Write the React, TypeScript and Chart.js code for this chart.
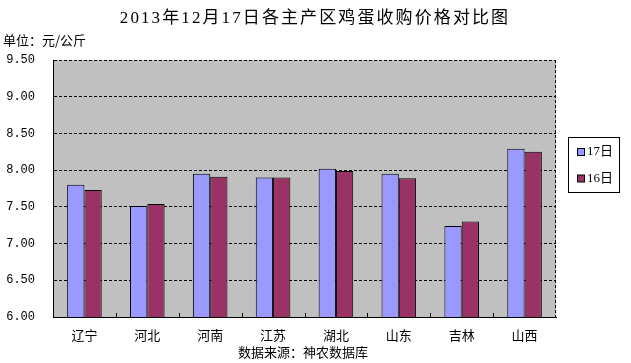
import React, { useEffect, useRef } from "react";
import { Chart, registerables } from "chart.js";

Chart.register(...registerables);

const categories = ["辽宁", "河北", "河南", "江苏", "湖北", "山东", "吉林", "山西"];
const series17 = [7.8, 7.51, 7.95, 7.9, 8.02, 7.95, 7.24, 8.29];
const series16 = [7.73, 7.54, 7.91, 7.9, 7.99, 7.89, 7.3, 8.25];
const seriesLabels = ["17日", "16日"];
const seriesColors = ["#9999FF", "#993366"];
const yMin = 6;
const yMax = 9.5;
const yStep = 0.5;
const titleText = "2013年12月17日各主产区鸡蛋收购价格对比图";
const unitText = "单位：元/公斤";
const sourceText = "数据来源：神农数据库";

const CJK = '"Noto Sans CJK SC", "Noto Sans", sans-serif';

const decorPlugin = {
  id: "decor",
  beforeDraw(chart: any) {
    const { ctx, chartArea: a } = chart;
    ctx.save();
    ctx.fillStyle = "#ffffff";
    ctx.fillRect(0, 0, chart.width, chart.height);
    ctx.fillStyle = "#C0C0C0";
    ctx.fillRect(a.left, a.top, a.right - a.left, a.bottom - a.top);
    ctx.restore();
  },
  afterDraw(chart: any) {
    const { ctx, chartArea: a } = chart;
    ctx.save();
    // right dashed border
    ctx.strokeStyle = "#000000";
    ctx.lineWidth = 1;
    ctx.setLineDash([3, 2]);
    ctx.beginPath();
    ctx.moveTo(Math.round(a.right) - 0.5, a.top);
    ctx.lineTo(Math.round(a.right) - 0.5, a.bottom);
    ctx.stroke();
    ctx.setLineDash([]);
    // inward category tick marks
    const n = categories.length;
    const w = (a.right - a.left) / n;
    ctx.beginPath();
    for (let i = 1; i < n; i++) {
      const x = Math.round(a.left + w * i) + 0.5;
      ctx.moveTo(x, a.bottom);
      ctx.lineTo(x, a.bottom - 4);
    }
    ctx.stroke();

    // title
    ctx.fillStyle = "#000000";
    ctx.textBaseline = "middle";
    ctx.textAlign = "center";
    ctx.font = '17px "Liberation Serif", "Noto Sans CJK SC", serif';
    (ctx as any).letterSpacing = "2.1px";
    ctx.fillText(titleText, 315, 19);
    (ctx as any).letterSpacing = "0px";

    // unit
    ctx.textAlign = "left";
    ctx.font = "13px " + CJK;
    ctx.fillText(unitText, 3, 40);

    // source
    ctx.textAlign = "center";
    ctx.fillText(sourceText, 303, 352);

    // legend
    const lx = 568.5, ly = 137.5, lw = 51, lh = 55;
    ctx.fillStyle = "#ffffff";
    ctx.fillRect(lx, ly, lw, lh);
    ctx.strokeStyle = "#000000";
    ctx.strokeRect(lx, ly, lw, lh);
    const ds = chart.data.datasets;
    ds.forEach((d: any, i: number) => {
      const cy = 152 + i * 26.5;
      ctx.fillStyle = d.backgroundColor;
      ctx.fillRect(577.5, cy - 3.5, 7, 7);
      ctx.strokeStyle = "#000000";
      ctx.strokeRect(577.5, cy - 3.5, 7, 7);
      ctx.fillStyle = "#000000";
      ctx.textAlign = "left";
      ctx.font = '13px "Liberation Serif", "Noto Sans CJK SC", serif';
      ctx.fillText(d.label, 587, cy);
    });
    ctx.restore();
  },
};

export default function App() {
  const ref = useRef<HTMLCanvasElement | null>(null);
  useEffect(() => {
    if (!ref.current) return;
    const chart = new Chart(ref.current, {
      type: "bar",
      data: {
        labels: categories,
        datasets: [
          {
            label: seriesLabels[0],
            data: series17,
            backgroundColor: seriesColors[0],
            borderColor: "#000000",
            borderWidth: 1,
            borderSkipped: false,
            categoryPercentage: 0.55,
            barPercentage: 1,
          },
          {
            label: seriesLabels[1],
            data: series16,
            backgroundColor: seriesColors[1],
            borderColor: "#000000",
            borderWidth: 1,
            borderSkipped: false,
            categoryPercentage: 0.55,
            barPercentage: 1,
          },
        ],
      },
      options: {
        responsive: false,
        animation: false,
        devicePixelRatio: 1,
        layout: { padding: { left: 0, top: 60, right: 75, bottom: 0 } },
        plugins: {
          legend: { display: false },
          title: { display: false },
          tooltip: { enabled: false },
        },
        scales: {
          x: {
            grid: { display: false, drawTicks: false },
            border: { display: true, color: "#000000", width: 1 },
            ticks: {
              padding: 10,
              color: "#000000",
              font: { family: CJK, size: 13 },
            },
            afterFit(axis: any) {
              axis.height = 46;
            },
          },
          y: {
            min: yMin,
            max: yMax,
            grid: { color: "#000000", drawTicks: false, lineWidth: 1 },
            border: { display: true, color: "#000000", width: 1, dash: [3, 2] },
            ticks: {
              stepSize: yStep,
              padding: 18,
              color: "#000000",
              font: { family: '"Liberation Mono", "DejaVu Sans Mono", monospace', size: 12 },
              callback: (v: any) => Number(v).toFixed(2),
            },
            afterFit(axis: any) {
              axis.width = 53;
            },
          },
        },
      },
      plugins: [decorPlugin],
    });
    return () => chart.destroy();
  }, []);
  return (
    <div style={{ position: "absolute", left: 0, top: 0, width: 631, height: 363, background: "#fff" }}>
      <canvas ref={ref} width={631} height={363} style={{ display: "block" }} />
    </div>
  );
}
